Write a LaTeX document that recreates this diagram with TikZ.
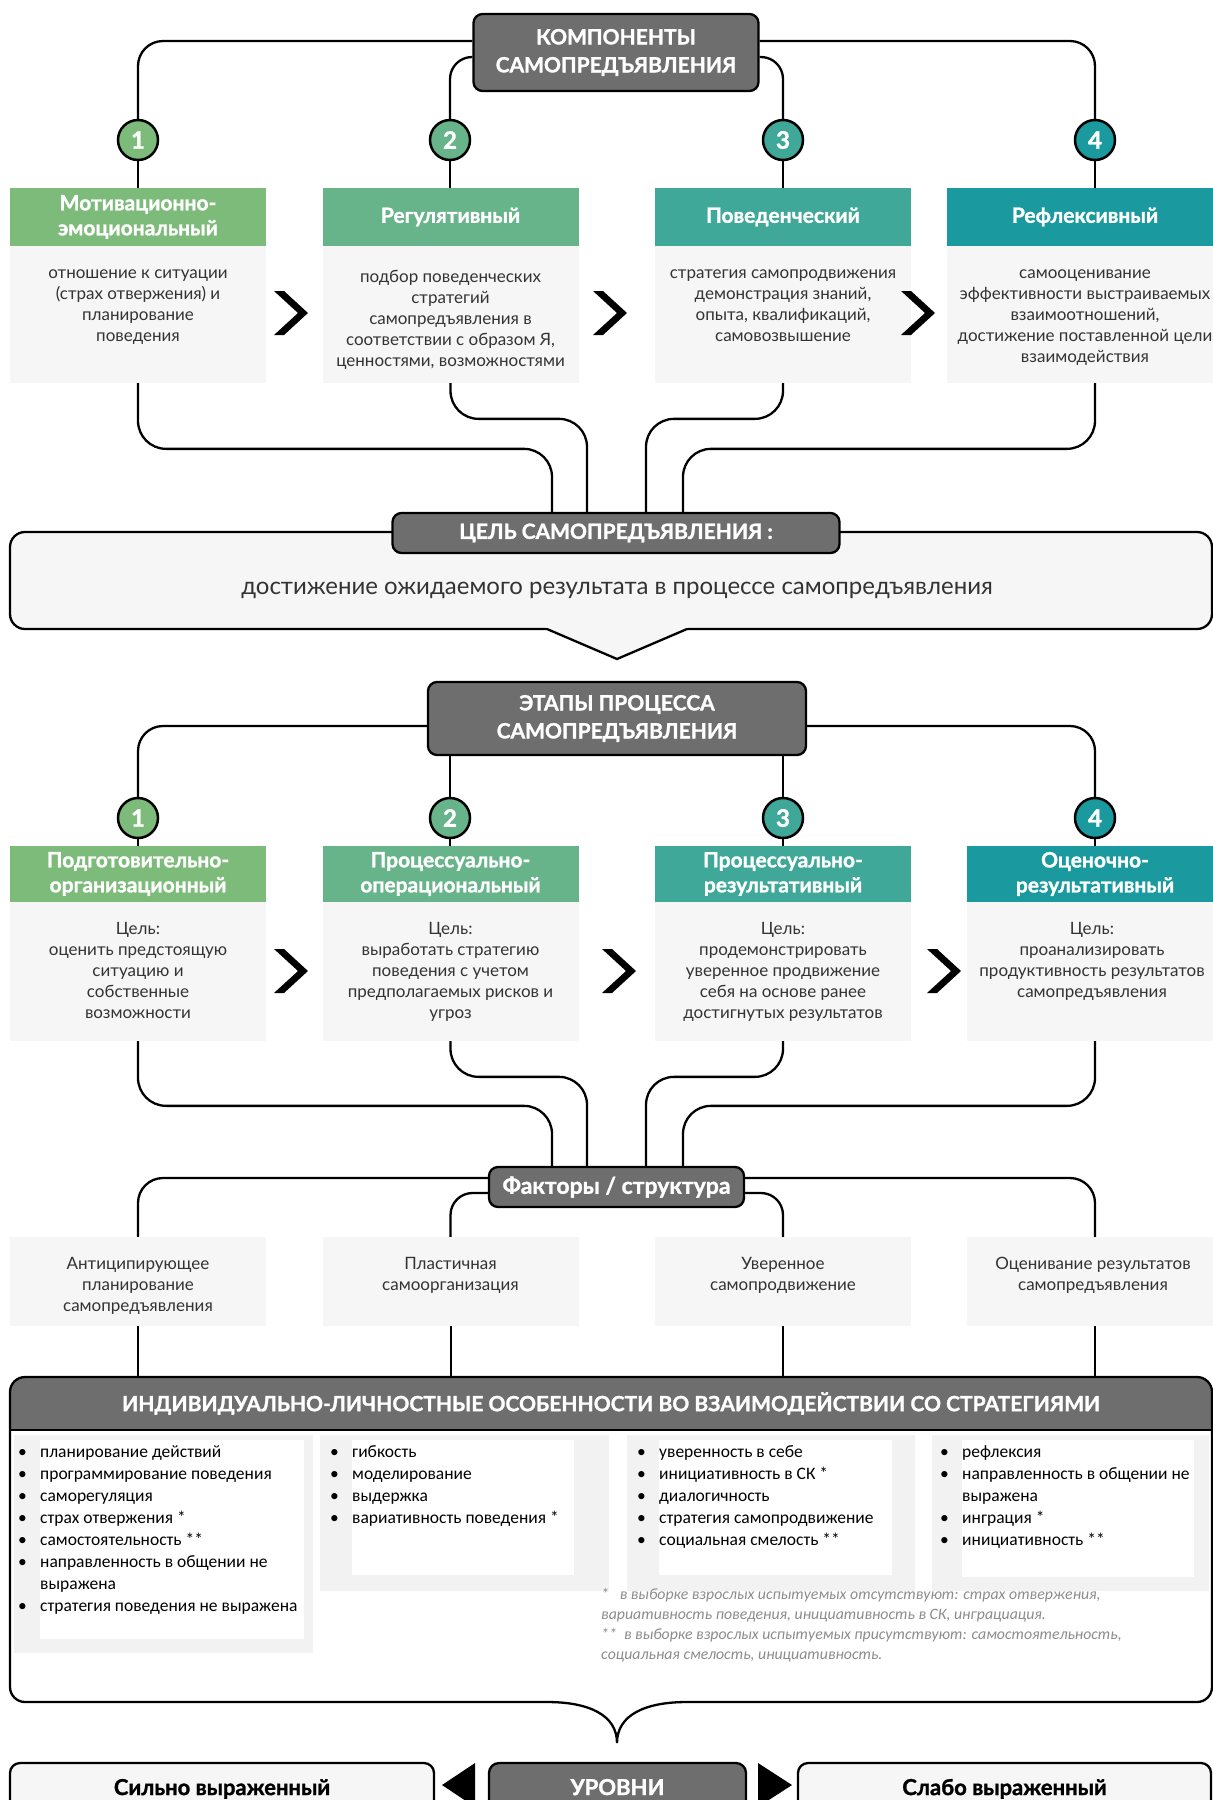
\documentclass[tikz,border=0pt]{standalone}
\usepackage{fontspec}
\setmainfont{Lato}[BoldFeatures={FakeBold=1.3}]
\newfontfamily\listfont{Carlito}
\usetikzlibrary{positioning}

\definecolor{gm}{HTML}{6E6E6E}
\definecolor{colA}{HTML}{7DBB7A}
\definecolor{colB}{HTML}{67B38A}
\definecolor{colC}{HTML}{3FA898}
\definecolor{colD}{HTML}{1A9A9E}
\definecolor{panel}{HTML}{F6F6F6}
\definecolor{panelB}{HTML}{F2F2F2}
\definecolor{txt}{HTML}{333333}
\definecolor{notegray}{HTML}{8C8C8C}

\newenvironment{pointlist}{\begin{list}{\textbullet}{\setlength\leftmargin{22pt}\setlength\labelsep{0pt}\setlength\labelwidth{22pt}\setlength\itemsep{0pt}\setlength\topsep{0pt}\setlength\parsep{0pt}\setlength\partopsep{0pt}\def\makelabel##1{##1\hfil}}}{\end{list}}

\tikzset{
  link/.style={line width=2.3pt, rounded corners=28pt},
  capbox/.style={draw, line width=2.3pt, fill=gm, rounded corners=9pt, text=white, align=center, inner sep=0pt, font=\bfseries\fontsize{21}{28}\selectfont},
  head/.style={fill=#1, text=white, minimum width=256pt, minimum height=58pt, inner sep=0pt, align=center, font=\bfseries\fontsize{21}{25}\selectfont},
  body/.style={fill=panel, minimum width=256pt, minimum height=#1, inner sep=0pt},
  num/.style={circle, draw, line width=2.5pt, fill=#1, minimum size=40pt, inner sep=0pt, text=white, font=\bfseries\fontsize{24}{24}\selectfont},
  bodytext/.style={anchor=north, align=center, text=txt, inner sep=0pt, font=\fontsize{17}{21}\selectfont},
  listbox/.style={anchor=north west, inner sep=0pt, text=black, font=\listfont\fontsize{17.5}{22}\selectfont},
  levelbox/.style={draw, line width=2.3pt, rounded corners=10pt, fill=#1, minimum height=56pt, inner sep=0pt, font=\bfseries\fontsize{22}{24}\selectfont},
  chev/.pic={\fill (-17,-22) -- (-7,-22) -- (17,0) -- (-7,22) -- (-17,22) -- (7,0) -- cycle;}
}

\begin{document}
\begin{tikzpicture}[x=1pt,y=-1pt]
\useasboundingbox (0,0) rectangle (1213,1800);
\clip (0,0) rectangle (1213,1800);
\fill[white] (0,0) rectangle (1213,1800);

\node[capbox, minimum width=285pt, minimum height=77pt] (comp) at (616,52.5) {КОМПОНЕНТЫ\\САМОПРЕДЪЯВЛЕНИЯ};
\node[num=colA] (n1) at (138,140) {1};
\node[num=colB] (n2) at (450,140) {2};
\node[num=colC] (n3) at (783,140) {3};
\node[num=colD] (n4) at (1095,140) {4};
\node[head=colA] (h1) at (138,217) {Мотивационно-\\эмоциональный};
\node[head=colB] (h2) at (450.5,217) {Регулятивный};
\node[head=colC] (h3) at (783,217) {Поведенческий};
\node[head=colD, minimum width=276pt] (h4) at (1085,217) {Рефлексивный};
\node[body=137pt] (b1) at (138,314.5) {};
\node[body=137pt] (b2) at (450.5,314.5) {};
\node[body=137pt] (b3) at (783,314.5) {};
\node[body=137pt, minimum width=276pt] (b4) at (1085,314.5) {};
\node[bodytext] (t1) at (138,270) {отношение к ситуации\\(страх отвержения) и\\планирование\\поведения};
\node[bodytext] (t2) at (450.5,270) {подбор поведенческих\\стратегий\\самопредъявления в\\соответствии с образом Я,\\ценностями, возможностями};
\node[bodytext] (t3) at (783,270) {стратегия самопродвижения\\демонстрация знаний,\\опыта, квалификаций,\\самовозвышение};
\node[bodytext] (t4) at (1085,270) {самооценивание\\эффективности выстраиваемых\\взаимоотношений,\\достижение поставленной цели\\взаимодействия};
\pic at (291,313) {chev};
\pic at (610,313) {chev};
\pic at (918,313) {chev};

\draw[link, rounded corners=25pt] ([yshift=11.5pt]comp.west) -| (n1);
\draw[link, rounded corners=22pt] ([yshift=-4.5pt]comp.west) -| (n2);
\draw[link, rounded corners=22pt] ([yshift=-4.5pt]comp.east) -| (n3);
\draw[link, rounded corners=25pt] ([yshift=11.5pt]comp.east) -| (n4);
\draw[line width=2.3pt] (n1) -- (h1);
\draw[line width=2.3pt] (n2) -- (n2 |- h2.north);
\draw[line width=2.3pt] (n3) -- (h3);
\draw[line width=2.3pt] (n4) -- (n4 |- h4.north);

\draw[line width=2.3pt, fill=panel, rounded corners=15pt] (547,629) -- (10,629) -- (10,532) -- (1212,532) -- (1212,629) -- (687,629);
\fill[panel] (545,627) -- (617,659) -- (689,627) -- cycle;
\draw[line width=2.3pt] (547,629) -- (617,659) -- (687,629);
\node[text=txt, font=\fontsize{24}{28}\selectfont] (aim) at (617,590) {достижение ожидаемого результата в процессе самопредъявления};
\node[capbox, minimum width=447pt, minimum height=40pt, font=\bfseries\fontsize{21}{24}\selectfont] (goal) at (616,533) {ЦЕЛЬ САМОПРЕДЪЯВЛЕНИЯ :};

\draw[link] (b1.south) |- ([xshift=-64pt,yshift=63pt]goal.north) -- ([xshift=-64pt]goal.north);
\draw[link] (b2.south) |- ([xshift=-29pt,yshift=93pt]goal.north) -- ([xshift=-29pt]goal.north);
\draw[link] (b3.south) |- ([xshift=30pt,yshift=93pt]goal.north) -- ([xshift=30pt]goal.north);
\draw[link] (n4 |- b4.south) |- ([xshift=67pt,yshift=63pt]goal.north) -- ([xshift=67pt]goal.north);

\node[capbox, minimum width=378pt, minimum height=73pt] (stage) at (617,718.5) {ЭТАПЫ ПРОЦЕССА\\САМОПРЕДЪЯВЛЕНИЯ};
\node[num=colA] (m1) at (138,818) {1};
\node[num=colB] (m2) at (450,818) {2};
\node[num=colC] (m3) at (783,818) {3};
\node[num=colD] (m4) at (1095,818) {4};
\node[head=colA, minimum height=56pt] (p1) at (138,874) {Подготовительно-\\организационный};
\node[head=colB, minimum height=56pt] (p2) at (450.5,874) {Процессуально-\\операциональный};
\node[head=colC, minimum height=56pt] (p3) at (783,874) {Процессуально-\\результативный};
\node[head=colD, minimum height=56pt] (p4) at (1095,874) {Оценочно-\\результативный};
\node[body=139pt] (q1) at (138,971.5) {};
\node[body=139pt] (q2) at (450.5,971.5) {};
\node[body=139pt] (q3) at (783,971.5) {};
\node[body=139pt] (q4) at (1095,971.5) {};
\node[bodytext] (s1) at (138,922) {Цель:\\оценить предстоящую\\ситуацию и\\собственные\\возможности};
\node[bodytext] (s2) at (450.5,922) {Цель:\\выработать стратегию\\поведения с учетом\\предполагаемых рисков и\\угроз};
\node[bodytext] (s3) at (783,922) {Цель:\\продемонстрировать\\уверенное продвижение\\себя на основе ранее\\достигнутых результатов};
\node[bodytext] (s4) at (1092,922) {Цель:\\проанализировать\\продуктивность результатов\\самопредъявления};
\pic at (291,971) {chev};
\pic at (619,971) {chev};
\pic at (944,971) {chev};

\draw[link, rounded corners=25pt] ([yshift=-7.5pt]stage.west) -| (m1);
\draw[line width=2.3pt] (m2 |- stage.south) -- (m2);
\draw[line width=2.3pt] (m3 |- stage.south) -- (m3);
\draw[link, rounded corners=25pt] ([yshift=-7.5pt]stage.east) -| (m4);
\draw[line width=2.3pt] (m1) -- (p1);
\draw[line width=2.3pt] (m2) -- (m2 |- p2.north);
\draw[line width=2.3pt] (m3) -- (p3);
\draw[line width=2.3pt] (m4) -- (p4);

\node[capbox, minimum width=255pt, minimum height=40pt, font=\bfseries\fontsize{23}{26}\selectfont] (fac) at (616.5,1187) {Факторы / структура};
\draw[link] (q1.south) |- ([xshift=-64.5pt,yshift=60pt]fac.north) -- ([xshift=-64.5pt]fac.north);
\draw[link] (q2.south) |- ([xshift=-29.5pt,yshift=89pt]fac.north) -- ([xshift=-29.5pt]fac.north);
\draw[link] (q3.south) |- ([xshift=29.5pt,yshift=89pt]fac.north) -- ([xshift=29.5pt]fac.north);
\draw[link] (q4.south) |- ([xshift=66.5pt,yshift=60pt]fac.north) -- ([xshift=66.5pt]fac.north);

\node[body=89pt] (f1) at (138,1281.5) {};
\node[body=89pt] (f2) at (450.5,1281.5) {};
\node[body=89pt] (f3) at (783,1281.5) {};
\node[body=89pt] (f4) at (1095,1281.5) {};
\node[bodytext] (g1) at (138,1257) {Антиципирующее\\планирование\\самопредъявления};
\node[bodytext] (g2) at (450.5,1257) {Пластичная\\самоорганизация};
\node[bodytext] (g3) at (783,1257) {Уверенное\\самопродвижение};
\node[bodytext] (g4) at (1093,1257) {Оценивание результатов\\самопредъявления};
\draw[link, rounded corners=25pt] ([yshift=9pt]fac.west) -| (f1);
\draw[link, rounded corners=22pt] ([yshift=-6pt]fac.west) -| (f2);
\draw[link, rounded corners=22pt] ([yshift=-6pt]fac.east) -| (f3);
\draw[link, rounded corners=25pt] ([yshift=9pt]fac.east) -| (f4);

\fill[gm, rounded corners=15pt] (10,1377) rectangle (1212,1430);
\fill[gm] (10,1400) rectangle (1212,1430);
\node[minimum width=1202pt, minimum height=53pt, inner sep=0pt, text=white, font=\bfseries\fontsize{21}{26}\selectfont] (indh) at (611,1403.5) {ИНДИВИДУАЛЬНО-ЛИЧНОСТНЫЕ ОСОБЕННОСТИ ВО ВЗАИМОДЕЙСТВИИ СО СТРАТЕГИЯМИ};
\draw[line width=2.3pt, rounded corners=15pt] (547,1702) -- (10,1702) -- (10,1377) -- (1212,1377) -- (1212,1702) -- (687,1702);
\draw[line width=2.3pt] (687,1702) .. controls (645,1702) and (617,1715) .. (617,1743) .. controls (617,1715) and (589,1702) .. (547,1702);
\draw[line width=2.3pt] (10,1430) -- (1212,1430);
\draw[line width=2pt] (f1) -- (f1 |- indh.north);
\draw[line width=2pt] (f2) -- (f2 |- indh.north);
\draw[line width=2pt] (f3) -- (f3 |- indh.north);
\draw[line width=2pt] (f4) -- (f4 |- indh.north);

\fill[panelB] (14,1435) rectangle (313,1653);
\fill[white] (40,1440) rectangle (304,1639);
\fill[panelB] (320,1435) rectangle (609,1591);
\fill[white] (352,1440) rectangle (574,1575);
\fill[panelB] (627,1435) rectangle (915,1591);
\fill[white] (659,1440) rectangle (892,1575);
\fill[panelB] (932,1435) rectangle (1209,1591);
\fill[white] (962,1440) rectangle (1194,1577);

\node[listbox] (l1) at (18,1445) {\begin{minipage}{300pt}\begin{pointlist}
\item планирование действий
\item программирование поведения
\item саморегуляция
\item страх отвержения *
\item самостоятельность **
\item направленность в общении не\\выражена
\item стратегия поведения не выражена
\end{pointlist}\end{minipage}};
\node[listbox] (l2) at (330,1445) {\begin{minipage}{280pt}\begin{pointlist}
\item гибкость
\item моделирование
\item выдержка
\item вариативность поведения *
\end{pointlist}\end{minipage}};
\node[listbox] (l3) at (637,1445) {\begin{minipage}{280pt}\begin{pointlist}
\item уверенность в себе
\item инициативность в СК *
\item диалогичность
\item стратегия самопродвижение
\item социальная смелость **
\end{pointlist}\end{minipage}};
\node[listbox] (l4) at (940,1445) {\begin{minipage}{270pt}\begin{pointlist}
\item рефлексия
\item направленность в общении не\\выражена
\item инграция *
\item инициативность **
\end{pointlist}\end{minipage}};
\node[anchor=north west, inner sep=0pt, align=left, text=notegray, font=\listfont\itshape\fontsize{15.8}{20}\selectfont] (fn) at (601,1588) {*\ \ \ в выборке взрослых испытуемых отсутствуют: страх отвержения,\\вариативность поведения, инициативность в СК, инграциация.\\**\ \ в выборке взрослых испытуемых присутствуют: самостоятельность,\\социальная смелость, инициативность.};

\node[levelbox=panel, minimum width=424pt] (strong) at (222,1791) {\raisebox{8pt}{Сильно выраженный}};
\node[levelbox=gm, minimum width=257pt, text=white] (lvl) at (617.5,1791) {\raisebox{8pt}{УРОВНИ}};
\node[levelbox=panel, minimum width=413pt] (weak) at (1004.5,1791) {\raisebox{8pt}{Слабо выраженный}};
\fill (442,1785) -- (475,1763) -- (475,1807) -- cycle;
\fill (792,1785) -- (758,1763) -- (758,1807) -- cycle;
\end{tikzpicture}
\end{document}
